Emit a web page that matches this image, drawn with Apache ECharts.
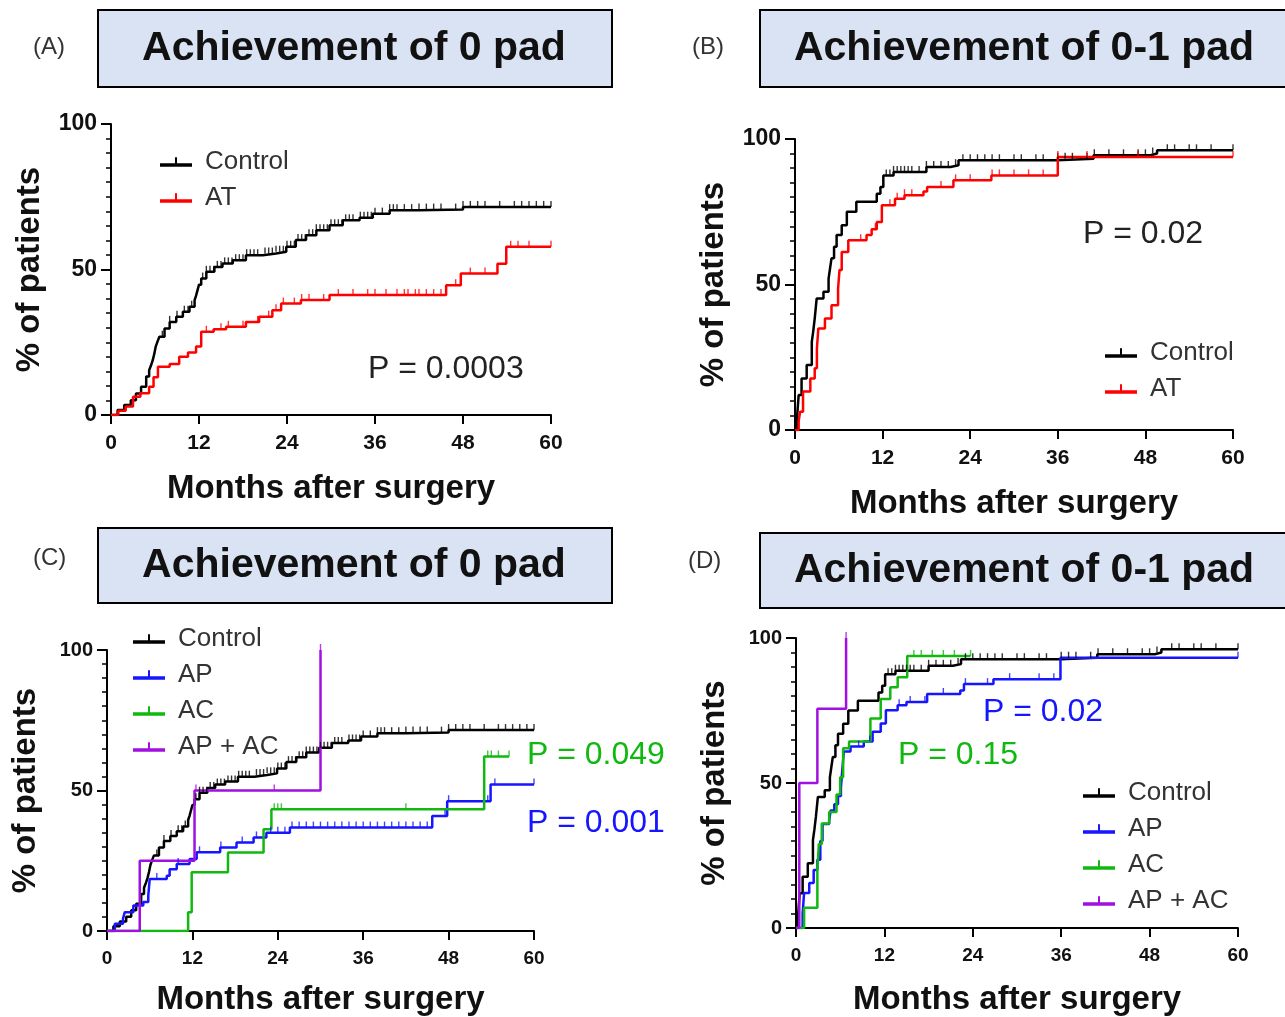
<!DOCTYPE html>
<html>
<head>
<meta charset="utf-8">
<script src="https://cdn.jsdelivr.net/npm/echarts@6/dist/echarts.min.js"></script>
<style>
html,body{margin:0;padding:0;background:#fff;}
#chart{width:1285px;height:1017px;}
</style>
</head>
<body>
<div id="chart"></div>
<script>
// ---------------- DATA ----------------
const monthTickInterval = 12;           // x ticks: 0,12,24,36,48,60
const pctTickInterval = 50;             // y ticks: 0,50,100
const panelTitles = ['Achievement of 0 pad', 'Achievement of 0-1 pad', 'Achievement of 0 pad', 'Achievement of 0-1 pad'];
const panelLetters = ['(A)', '(B)', '(C)', '(D)'];

// Panel A / C : achievement of 0 pad
const controlZero = [[0,0],[0.9,1.7],[1.8,3.4],[2.7,5.1],[3.4,7.4],[4.1,9.7],[4.8,13.2],[5.2,15.4],[5.45,17],[5.7,18.9],[5.9,21],[6.1,23.5],[6.35,25.3],[6.6,26.9],[7.3,29.7],[8,32],[8.9,33.8],[9.8,35.5],[10.7,37.2],[11.4,39.5],[11.6,41],[11.8,42.9],[12.0,44.8],[12.3,46.9],[13,49.2],[14.1,50.9],[15.2,52.1],[16.6,53.2],[18.4,54.9],[20.7,55.5],[22.5,56.1],[23.9,57.8],[25.2,60.1],[26.6,61.8],[28,63.5],[29.8,65.2],[31.6,66.9],[33.9,67.8],[35.7,69.2],[38,70.4],[42,70.6],[48,71.5],[60,71.5]];
const controlZeroCensor = [7,8,9,10,10.5,11,12.5,13,13.5,14,14.5,15,15.5,16,16.5,17,17.5,18,18.5,19,19.5,20,21,21.5,22,22.5,23,23.5,24,24.5,25,25.5,26,26.5,27,27.5,28,28.5,29,29.5,30,30.5,31,31.5,32,32.5,33,34,34.5,35,35.5,36,37,38,38.5,39,40,41,42,43,44,45,47,48,49,50,51,53,55,56,57,58,59,60];
const atZero = [[0,0],[1,1.5],[2,2.9],[3,6.3],[4,7.5],[5.2,9.7],[5.8,13],[6.4,16.6],[8,17.5],[9.3,20],[10.5,21.5],[11.6,23.5],[12.3,28.6],[14,29.5],[15.7,30.3],[18.4,32],[20.2,33.8],[22,36],[23.2,38.3],[25.9,39.5],[29.8,41.2],[45.7,44.6],[47.7,48.6],[52.7,52],[53.9,57.8],[60,57.8]];
const atZeroCensor = [13,15,16,18,20,21.5,22.5,23.5,25,26,27,29,31,33,35,36,37.5,39,40,40.5,41.5,42,43,44,45,47,49,51,54.5,55.5,57,60];
const apZero = [[0,0],[1.1,2.6],[2.25,4.4],[2.5,6.7],[3.7,9.1],[5.1,10.3],[5.8,12.6],[6,18.5],[8.4,19.7],[8.8,22],[9.8,23.8],[11.6,25.6],[12.6,28],[15.9,29.7],[18.2,31.5],[20.6,33.3],[22.4,35],[25.7,36.8],[45.7,40.9],[47.8,46.2],[53.9,52.1],[60,52.1]];
const apZeroCensor = [7,10,13,16,19,21,23,24,25,26,27,28,29,30,31,32,33,34,35,36,37,38,39,40,41,42,43,44,45,47.5,48,53.5,54.5,60];
const acZero = [[0,0],[11.4,6.7],[11.9,20.9],[17,27.9],[22,36.2],[23.1,43.3],[53,62.1],[56.5,62.1]];
const acZeroCensor = [23.5,24,24.5,42,53.5,54,55,56.5];
const apacZero = [[0,0],[4.6,25],[12.3,50],[30,100]];
const apacZeroCensor = [12.5,23.5,30];

// Panel B / D : achievement of 0-1 pad
const controlOne = [[0,0],[0.3,5],[0.5,12],[0.9,17.7],[1.6,22.3],[2.3,30.3],[2.5,34],[2.7,38.3],[2.97,45.2],[3.9,47.5],[4.6,52],[4.8,55.5],[5,59],[5.35,63],[5.7,67],[6.4,70.4],[7.1,75],[8.4,78.4],[11.2,81.2],[11.7,83.5],[12.1,87.5],[13.5,88.7],[18,90.4],[21.3,91],[22.4,92.7],[35.9,93.2],[40.9,94.4],[48.7,95],[49.6,96.1],[60,96.1]];
const controlOneCensor = [12.5,13,13.5,14,14.5,15,15.5,16,17,18,19,20,21,22,23,24,25,26,27,28,30,31,33,34,36,37,38,40,41,43,45,47,48,49,51,52,54,55,57,60];
const atOne = [[0,0],[0.5,3],[0.7,6.3],[1.1,13.2],[2.1,17.7],[2.7,21.2],[3.0,28],[3.2,34.9],[4.1,38.3],[5,42.9],[5.9,48.6],[6.1,55],[6.4,61.2],[7.3,65.2],[9.8,67],[10.5,69],[11.2,71.5],[11.9,77.2],[13.7,79.5],[15,80.7],[17.6,82],[18.1,83.5],[21.7,85.8],[26.9,87.5],[36,93.8],[60,93.8]];
const atOneCensor = [9,11,13,14,15,16,20,22,24,27,28,30,32,34,36,40,47,60];
const apOne = [[0,0],[0.9,5],[1.1,12.1],[1.8,15.5],[2.4,20],[2.9,23.5],[3.3,30],[3.6,35.9],[4.5,37],[4.7,40.5],[5.2,42.7],[5.7,45.5],[6.1,48.4],[6.3,55],[6.5,60.9],[7.4,62.6],[9.2,64.3],[10.4,67.7],[11.5,70.5],[12.2,75.1],[13.8,76.8],[15,77.9],[17.8,80.7],[22.3,81.9],[22.8,84.1],[26.8,85.8],[35.9,93.2],[60,93.2]];
const apOneCensor = [8.5,10,14,15.5,17.5,20,23,26,29,33,35,60];
const acOne = [[0,0],[1.1,7],[2.9,20],[3.1,29],[3.5,36],[4.5,40],[5.5,46],[6,52],[6.4,62],[7.2,64.3],[10.1,72.2],[11.5,79],[12.8,83],[13.8,86.5],[15.1,93.8],[23.7,93.8]];
const acOneCensor = [16,17,18.5,20,21.5,23.7];
const apacOne = [[0,0],[0.45,50],[2.9,75.6],[6.8,100]];
const apacOneCensor = [6.8];

// ---------------- STYLE ----------------
const COL = {control:'#000000', at:'#ff0000', ap:'#1515ff', ac:'#10b810', apac:'#a010e0'};
const FONT = 'Liberation Sans, Arial, sans-serif';

const grids = [
  {left:111, top:124, width:440, height:291},
  {left:795, top:139, width:438, height:291},
  {left:107, top:650, width:427, height:282},
  {left:796, top:638, width:442, height:294}
];
const yLabelSize = [23, 23, 20, 20];
const xLabelSize = [21, 21, 19, 19];
const xNameGap = [57, 57, 52, 55];

function stepY(curve, t){ let y = 0; for (const p of curve){ if (p[0] <= t) y = p[1]; else break; } return y; }

function km(name, curve, color, g){
  return {type:'line', name, xAxisIndex:g, yAxisIndex:g, data:curve, step:'end',
    symbol:'none', showSymbol:false, silent:true, animation:false,
    lineStyle:{color, width:2.5}, itemStyle:{color}};
}
function cens(name, curve, times, color, g){
  return {type:'scatter', name:name + ' censored ' + g, xAxisIndex:g, yAxisIndex:g,
    data: times.map(t => [t, stepY(curve, t)]), symbol:'rect', symbolSize:[1.4, 6], symbolOffset:[0,-3],
    silent:true, animation:false, itemStyle:{color}, z:3};
}

const xAxes = grids.map((g,i) => ({
  type:'value', gridIndex:i, min:0, max:60, interval:monthTickInterval,
  name:'Months after surgery', nameLocation:'middle', nameGap:xNameGap[i],
  nameTextStyle:{fontFamily:FONT, fontWeight:'bold', fontSize:33, color:'#111'},
  axisLine:{show:true, onZero:false, lineStyle:{color:'#000', width:2}},
  axisTick:{show:true, inside:false, length:9, lineStyle:{color:'#000', width:2}},
  axisLabel:{fontFamily:FONT, fontWeight:'bold', fontSize:xLabelSize[i], color:'#111', margin:18},
  splitLine:{show:false}
}));
const yAxes = grids.map((g,i) => ({
  type:'value', gridIndex:i, min:0, max:100, interval:pctTickInterval,
  name:'% of patients', nameLocation:'middle', nameGap:65,
  nameTextStyle:{fontFamily:FONT, fontWeight:'bold', fontSize:33, color:'#111'},
  axisLine:{show:true, onZero:false, lineStyle:{color:'#000', width:2}},
  axisTick:{show:true, inside:false, length:10, lineStyle:{color:'#000', width:2}},
  minorTick:{show:true, splitNumber:10, length:5, lineStyle:{color:'#000', width:1.5}},
  axisLabel:{fontFamily:FONT, fontWeight:'bold', fontSize:yLabelSize[i], color:'#111', margin:14},
  splitLine:{show:false}
}));

const series = [
  km('Control', controlZero, COL.control, 0), cens('Control', controlZero, controlZeroCensor, COL.control, 0),
  km('AT', atZero, COL.at, 0), cens('AT', atZero, atZeroCensor, COL.at, 0),

  km('Control', controlOne, COL.control, 1), cens('Control', controlOne, controlOneCensor, COL.control, 1),
  km('AT', atOne, COL.at, 1), cens('AT', atOne, atOneCensor, COL.at, 1),

  km('Control', controlZero, COL.control, 2), cens('Control', controlZero, controlZeroCensor, COL.control, 2),
  km('AP', apZero, COL.ap, 2), cens('AP', apZero, apZeroCensor, COL.ap, 2),
  km('AC', acZero, COL.ac, 2), cens('AC', acZero, acZeroCensor, COL.ac, 2),
  km('AP + AC', apacZero, COL.apac, 2), cens('AP + AC', apacZero, apacZeroCensor, COL.apac, 2),

  km('Control', controlOne, COL.control, 3), cens('Control', controlOne, controlOneCensor, COL.control, 3),
  km('AP', apOne, COL.ap, 3), cens('AP', apOne, apOneCensor, COL.ap, 3),
  km('AC', acOne, COL.ac, 3), cens('AC', acOne, acOneCensor, COL.ac, 3),
  km('AP + AC', apacOne, COL.apac, 3), cens('AP + AC', apacOne, apacOneCensor, COL.apac, 3)
];

const legendIcon = 'path://M0,9L32,9L32,12.5L0,12.5Z M15,3L17,3L17,9L15,9Z';
function legend(names, left, top){
  return {data:names, left, top, orient:'vertical', itemGap:10, itemWidth:32, itemHeight:12,
    icon:legendIcon, selectedMode:false,
    textStyle:{fontFamily:FONT, fontSize:26, color:'#333', lineHeight:26, padding:[0,0,0,8]}};
}

function titleBox(x, y, w, h, text, cx){
  return [
    {type:'rect', shape:{x, y, width:w, height:h}, style:{fill:'#dae3f3', stroke:'#000', lineWidth:2}, z:1},
    {type:'text', x:cx, y:y + h/2, style:{text, fontFamily:FONT, fontWeight:'bold', fontSize:41, fill:'#111', textAlign:'center', textVerticalAlign:'middle'}, z:2}
  ];
}
function label(text, x, y, size, color){
  return {type:'text', x, y, style:{text, fontFamily:FONT, fontSize:size, fill:color, textAlign:'left', textVerticalAlign:'middle'}, z:2};
}

const graphic = [].concat(
  titleBox(98, 10, 514, 77, panelTitles[0], 354),
  titleBox(760, 10, 540, 77, panelTitles[1], 1024),
  titleBox(98, 528, 514, 75, panelTitles[2], 354),
  titleBox(760, 533, 540, 75, panelTitles[3], 1024),
  [
    label(panelLetters[0], 33, 47, 24, '#333'),
    label(panelLetters[1], 692, 47, 24, '#333'),
    label(panelLetters[2], 33, 558, 24, '#333'),
    label(panelLetters[3], 688, 561, 24, '#333'),
    label('P = 0.0003', 368, 369, 32, '#222'),
    label('P = 0.02', 1083, 234, 32, '#222'),
    label('P = 0.049', 527, 755, 32, COL.ac),
    label('P = 0.001', 527, 823, 32, COL.ap),
    label('P = 0.02', 983, 712, 32, COL.ap),
    label('P = 0.15', 898, 755, 32, COL.ac)
  ]
);

const chart = echarts.init(document.getElementById('chart'), null, {renderer:'canvas'});
chart.setOption({
  backgroundColor:'#ffffff',
  animation:false,
  grid: grids,
  xAxis: xAxes,
  yAxis: yAxes,
  legend: [
    legend(['Control','AT'], 155, 144),
    legend(['Control','AT'], 1100, 335),
    legend(['Control','AP','AC','AP + AC'], 128, 621),
    legend(['Control','AP','AC','AP + AC'], 1078, 775)
  ],
  series,
  graphic
});
</script>
</body>
</html>
